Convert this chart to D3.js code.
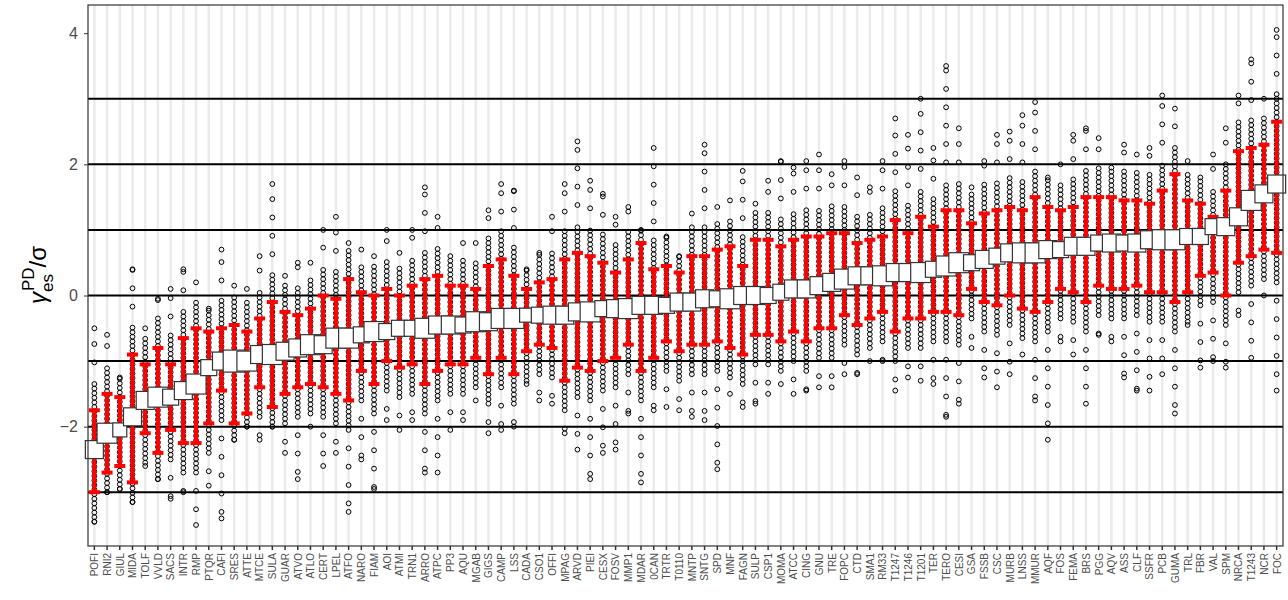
<!DOCTYPE html>
<html><head><meta charset="utf-8">
<script src="https://cdn.jsdelivr.net/npm/d3@7"></script>
<style>body{margin:0;background:#fff}svg{font-family:"Liberation Sans",Arial,sans-serif}</style>
</head><body><svg id="c" width="1288" height="600"></svg>
<script>
const categories=["POFI","RNI2","GIUL","MIDA","TOLF","VVLD","SACS","INTR","RMP","PTQR","CAFI","SRES","ATTE","MTCE","SULA","GUAR","ATVO","ATLO","CERT","LPEL","ATFO","NARO","FIAM","AOI","ATMI","TRN1","ARRO","ATPC","PP3","AQU","MGAB","GIGS","CAMP","LSS","CADA","CSO1","OFFI","MPAG","ARVD","PIEI","CESX","FOSV","MMP1","MDAR","0CAN","TRTR","T0110","MNTP","SNTG","SPD","MNF","FAGN","SULP","CSP1","MOMA","ATCC","CING","GNU","TRE","FOPC","CTD","SMA1","RM33","T1247","T1246","T1201","TER","TERO","CESI","GSA","FSSB","CSC","MURB","LNSS","MMUR","AQF","FOS","FEMA","BRS","PGG","AQV","ASS","CLF","SSFR","PCB","GUMA","TRL","FBR","VAL","SPM","NRCA","T1243","NCR","FOC"];
const median=[-2.35,-2.1,-2.05,-1.85,-1.6,-1.55,-1.55,-1.45,-1.35,-1.1,-1.0,-1.0,-1.0,-0.9,-0.9,-0.85,-0.8,-0.75,-0.75,-0.65,-0.65,-0.6,-0.55,-0.55,-0.5,-0.5,-0.5,-0.45,-0.45,-0.45,-0.4,-0.4,-0.35,-0.35,-0.3,-0.3,-0.3,-0.3,-0.25,-0.25,-0.2,-0.2,-0.2,-0.15,-0.15,-0.15,-0.1,-0.1,-0.05,-0.05,-0.05,0.0,0.0,0.0,0.05,0.1,0.1,0.15,0.2,0.25,0.3,0.3,0.3,0.35,0.35,0.35,0.4,0.45,0.5,0.5,0.55,0.6,0.65,0.65,0.65,0.7,0.7,0.75,0.75,0.8,0.8,0.8,0.8,0.85,0.85,0.85,0.9,0.9,1.05,1.05,1.2,1.45,1.55,1.7];
const errLo=[-3.0,-2.7,-2.6,-2.85,-2.1,-2.4,-2.05,-2.25,-2.25,-1.95,-1.45,-1.95,-1.8,-1.4,-1.7,-1.5,-1.4,-1.35,-1.4,-1.5,-1.6,-1.15,-1.35,-1.0,-1.1,-1.05,-1.35,-1.15,-1.05,-1.05,-0.95,-1.2,-0.95,-1.2,-0.85,-0.75,-0.8,-1.3,-1.1,-1.15,-1.0,-0.95,-0.75,-1.15,-0.95,-0.7,-0.85,-0.75,-0.75,-0.7,-0.8,-0.9,-0.6,-0.6,-0.7,-0.55,-0.7,-0.5,-0.5,-0.3,-0.45,-0.35,-0.25,-0.55,-0.35,-0.35,-0.25,-0.25,-0.3,0.1,-0.1,-0.15,0.0,-0.2,-0.25,-0.1,0.1,0.05,-0.1,0.15,0.1,0.1,0.15,0.05,0.05,-0.1,0.05,0.3,0.35,0.0,0.5,0.6,0.7,0.65];
const errHi=[-1.75,-1.5,-1.55,-0.9,-1.05,-0.8,-1.05,-0.65,-0.5,-0.55,-0.5,-0.45,-0.55,-0.35,-0.1,-0.25,-0.3,-0.2,0.0,-0.05,0.25,0.05,0.0,0.1,0.0,0.15,0.25,0.3,0.15,0.15,0.1,0.45,0.55,0.3,0.1,0.2,0.25,0.55,0.65,0.6,0.5,0.35,0.55,0.8,0.4,0.45,0.35,0.6,0.6,0.7,0.75,0.45,0.85,0.85,0.75,0.85,0.9,0.9,0.95,0.95,0.8,0.85,0.9,1.15,0.95,1.2,1.05,1.3,1.3,1.1,1.25,1.3,1.35,1.3,1.5,1.35,1.3,1.35,1.5,1.5,1.5,1.45,1.45,1.4,1.6,1.85,1.45,1.4,1.2,1.6,2.2,2.25,2.3,2.65];
const pointMin=[-3.45,-3.0,-2.95,-3.15,-2.6,-2.8,-3.1,-3.0,-3.5,-2.9,-3.4,-2.2,-2.0,-2.2,-2.0,-2.4,-2.8,-2.0,-2.6,-2.4,-3.3,-2.5,-2.95,-1.9,-2.05,-1.9,-2.7,-2.7,-2.05,-1.9,-1.6,-2.1,-2.05,-2.0,-1.35,-1.6,-1.65,-2.1,-2.35,-2.8,-2.4,-2.35,-1.8,-2.85,-1.75,-1.7,-1.75,-1.85,-1.9,-2.65,-1.5,-1.7,-1.65,-1.5,-1.35,-1.5,-1.45,-1.4,-1.4,-1.2,-1.2,-1.0,-1.0,-1.45,-1.25,-1.3,-1.35,-1.85,-1.65,-0.8,-1.25,-1.4,-1.2,-0.9,-1.6,-2.2,-0.7,-0.9,-1.65,-0.6,-0.7,-1.25,-1.45,-1.45,-1.2,-1.8,-0.45,-1.1,-1.0,-1.1,-0.3,-0.95,0.0,-1.45];
const pointMax=[-0.5,-0.6,-1.25,0.4,-0.5,-0.05,0.1,0.4,0.2,-0.2,0.7,0.15,0.1,0.6,1.7,0.3,0.5,0.5,1.0,1.2,0.8,0.7,0.6,1.0,0.65,1.0,1.65,1.2,0.6,0.8,0.8,1.3,1.7,1.6,0.4,0.65,1.2,1.7,2.35,1.75,1.55,1.2,1.35,1.0,2.25,0.9,0.6,1.25,2.3,1.35,1.45,1.9,1.4,1.75,2.05,1.95,2.05,2.15,1.85,2.05,1.8,1.65,2.05,2.7,2.45,3.0,2.25,3.5,2.55,1.65,2.05,2.45,2.5,2.75,2.95,1.8,2.0,2.45,2.55,2.4,1.95,2.3,2.15,2.25,3.05,2.85,2.05,1.8,2.15,2.55,3.05,3.6,3.0,4.05];
const boxSize=[18,20,14,18,18,20,16,18,20,16,18,22,20,18,20,18,18,20,18,20,20,16,20,16,16,16,20,18,18,16,20,18,20,20,14,16,18,18,18,20,16,18,20,18,18,16,18,18,18,16,20,18,18,16,16,18,18,18,18,20,18,18,20,18,18,20,16,20,20,16,18,16,18,20,20,18,16,18,18,16,18,16,18,18,20,20,16,16,16,18,18,20,18,18];
const yTicks=[-2,0,2,4];
const hLines=[-3,-2,-1,0,1,2,3];

const svg=d3.select("#c");
const L=88,R=1283,T=5,B=546;
const x=d3.scaleBand().domain(categories).range([L,R]);
const y=d3.scaleLinear().domain([-3.82,4.43]).range([B,T]);
const bw=x.bandwidth();
svg.append("rect").attr("x",L).attr("y",T).attr("width",R-L).attr("height",B-T).attr("fill","#fff");
svg.append("g").selectAll("line").data(categories).join("line")
 .attr("x1",d=>x(d)+bw/2).attr("x2",d=>x(d)+bw/2).attr("y1",T).attr("y2",B)
 .attr("stroke","#ebebeb").attr("stroke-width",2.5);
svg.append("g").selectAll("line").data(hLines).join("line")
 .attr("x1",L).attr("x2",R).attr("y1",d=>y(d)).attr("y2",d=>y(d)).attr("stroke","#000").attr("stroke-width",2);
const pts=[];
categories.forEach((c,i)=>{
  const lo=pointMin[i],hi=pointMax[i];
  const cLo=Math.max(lo,errLo[i]-0.45),cHi=Math.min(hi,errHi[i]+0.45);
  for(let v=cLo;v<=cHi;v+=0.07)pts.push([c,v]);
  for(let v=cLo-0.28;v>lo;v-=0.28)pts.push([c,v]);
  for(let v=cHi+0.28;v<hi;v+=0.28)pts.push([c,v]);
  pts.push([c,lo]);pts.push([c,hi]);
});
svg.append("g").selectAll("circle").data(pts).join("circle")
 .attr("cx",d=>x(d[0])+bw/2).attr("cy",d=>y(d[1])).attr("r",2.4)
 .attr("fill","none").attr("stroke","#000").attr("stroke-width",1);
const eb=svg.append("g").attr("stroke","#f00");
categories.forEach((c,i)=>{
  const cx=x(c)+bw/2;
  eb.append("line").attr("x1",cx).attr("x2",cx).attr("y1",y(errLo[i])).attr("y2",y(errHi[i])).attr("stroke-width",4);
  [errLo[i],errHi[i]].forEach(v=>eb.append("line").attr("x1",cx-5.5).attr("x2",cx+5.5).attr("y1",y(v)).attr("y2",y(v)).attr("stroke-width",4));
});
svg.append("g").selectAll("rect").data(categories).join("rect")
 .attr("x",(d,i)=>x(d)+bw/2-boxSize[i]/2).attr("y",(d,i)=>y(median[i])-boxSize[i]/2)
 .attr("width",(d,i)=>boxSize[i]).attr("height",(d,i)=>boxSize[i])
 .attr("fill","#fff").attr("stroke","#333").attr("stroke-width",1.2);
svg.append("rect").attr("x",L).attr("y",T).attr("width",R-L).attr("height",B-T).attr("fill","none").attr("stroke","#333").attr("stroke-width",1.2);
const ya=svg.append("g").attr("transform",`translate(${L},0)`).call(d3.axisLeft(y).tickValues(yTicks).tickSize(4).tickPadding(6));
ya.select(".domain").remove();
ya.selectAll("text").attr("font-size",16).attr("fill","#4d4d4d");
ya.selectAll("line").attr("stroke","#333");
const xa=svg.append("g").attr("transform",`translate(0,${B})`).call(d3.axisBottom(x).tickSize(4));
xa.select(".domain").remove();
xa.selectAll("line").attr("stroke","#333").attr("stroke-width",1.5);
xa.selectAll("text").attr("font-size",10).attr("fill","#4d4d4d")
 .attr("transform","rotate(-90)").attr("text-anchor","end").attr("dx","-7").attr("dy","0").attr("x",0).attr("y",bw/2-2.5);
const yl=svg.append("text").attr("transform","translate(46,275) rotate(-90)").attr("text-anchor","middle").attr("font-size",24).attr("fill","#000");
yl.append("tspan").text("γ").attr("font-style","italic");
yl.append("tspan").text("es").attr("font-size",17).attr("dy",7);
yl.append("tspan").text("PD").attr("font-size",17).attr("dy",-19).attr("dx",-17);
yl.append("tspan").text("/σ").attr("dy",12);
</script></body></html>
